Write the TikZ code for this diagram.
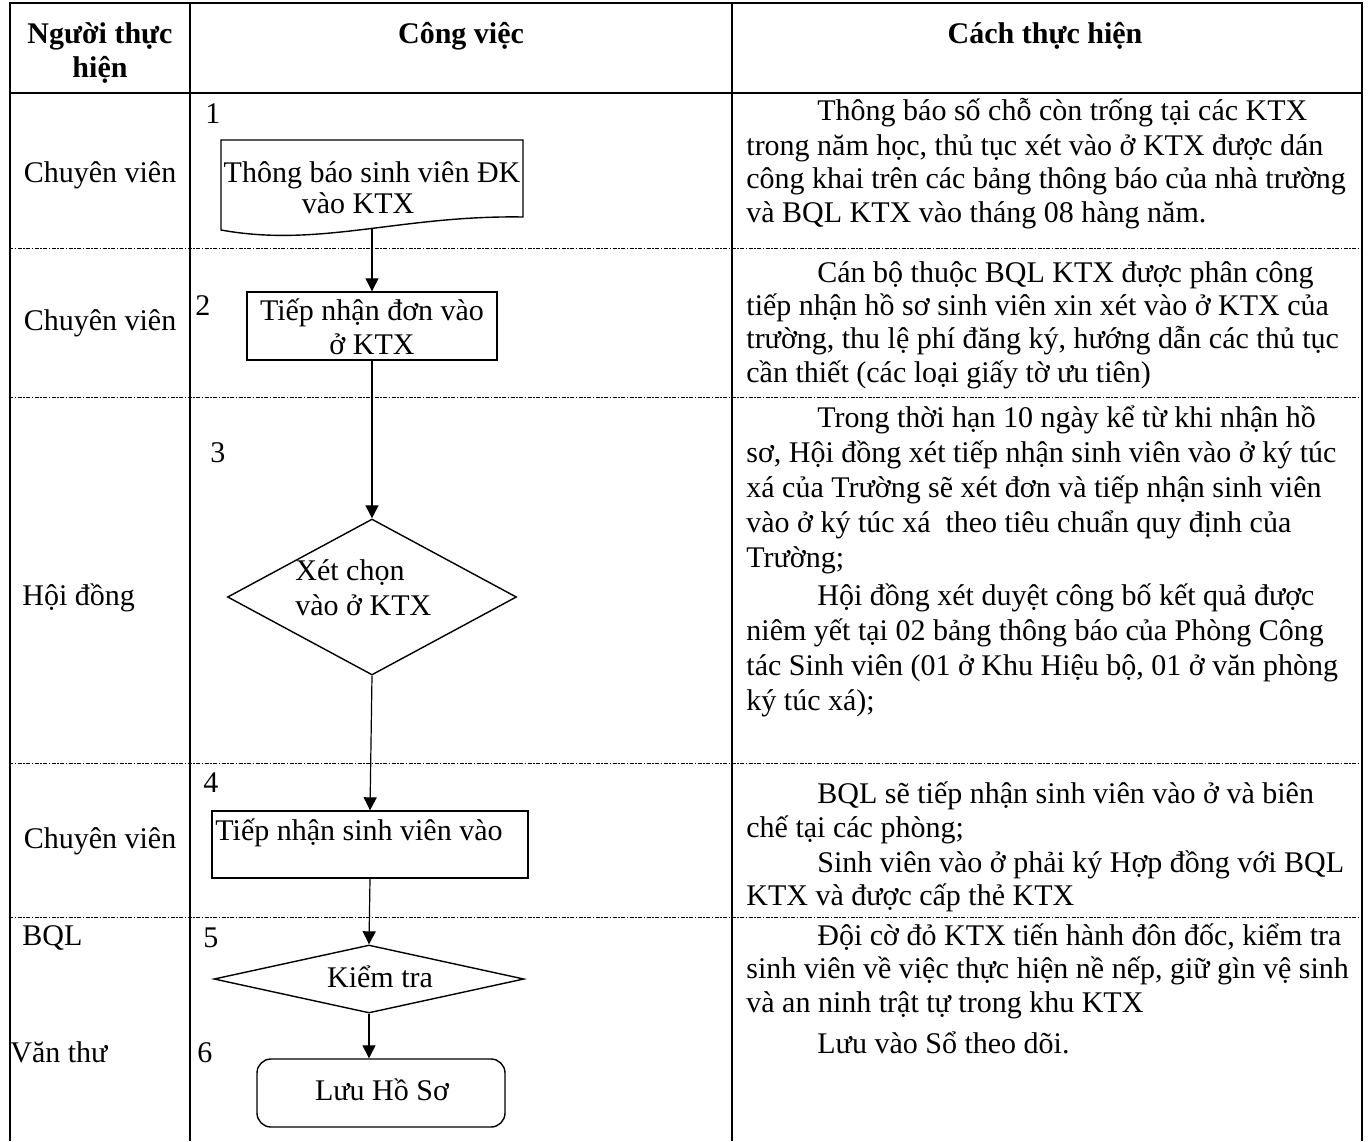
\documentclass[tikz,border=0pt]{standalone}
\usepackage{fontspec}
\setmainfont{Liberation Serif}
\usetikzlibrary{arrows.meta,shapes.geometric}
\newcommand\txtline[4]{\node[txt, anchor=base west] (#1) at (#2,#3) {#4};}
\begin{document}
\begin{tikzpicture}[x=0.5pt,y=-0.5pt,
  txt/.style={inner sep=0pt, font=\fontsize{15pt}{17pt}\selectfont},
  hdr/.style={inner sep=0pt, font=\fontsize{15pt}{17pt}\selectfont\bfseries},
  rowsep/.style={line width=0.5pt, dash pattern=on 2pt off 0.75pt on 0.75pt off 0.75pt},
  frame/.style={line width=1pt},
  box/.style={draw, line width=0.7pt, inner sep=0pt},
  flow/.style={line width=0.6pt, -{Triangle[length=6.5pt,width=6.5pt]}}
]
\useasboundingbox (0,0) rectangle (1370,1141);

% row separators
\foreach \yy in {248,397,763,917} {\draw[rowsep] (9,\yy) -- (1362,\yy);}
% frame
\draw[frame] (10,1141) -- (10,3) -- (1362,3) -- (1362,1141);
\draw[frame] (190,3) -- (190,1141);
\draw[frame] (732,3) -- (732,1141);
\draw[frame] (10,93) -- (1362,93);

% headers
\node[hdr, anchor=base] (h1a) at (100,43) {Người thực};
\node[hdr, anchor=base] (h1b) at (100,77) {hiện};
\node[hdr, anchor=base] (h2) at (461,43) {Công việc};
\node[hdr, anchor=base] (h3) at (1045,43) {Cách thực hiện};

% column 1
\node[txt, anchor=base] (p1) at (100,182) {Chuyên viên};
\node[txt, anchor=base] (p2) at (100,330) {Chuyên viên};
\node[txt, anchor=base west] (p3) at (22,605) {Hội đồng};
\node[txt, anchor=base] (p4) at (100,848) {Chuyên viên};
\node[txt, anchor=base west] (p5) at (22,945) {BQL};
\node[txt, anchor=base west] (p6) at (10,1062) {Văn thư};

% step numbers
\node[txt, anchor=base west] (n1) at (205,123) {1};
\node[txt, anchor=base west] (n2) at (195,315) {2};
\node[txt, anchor=base west] (n3) at (210,462) {3};
\node[txt, anchor=base west] (n4) at (203,792) {4};
\node[txt, anchor=base west] (n5) at (203,947) {5};
\node[txt, anchor=base west] (n6) at (197,1062) {6};

% flow shapes
\draw[line width=0.7pt] (221,140) -- (523,140) -- (523,217)
  .. controls (400,215) and (320,248) .. (221,230) -- cycle;
\coordinate (d1b) at (372,229);
\node[box, minimum width=125pt, minimum height=34pt] (b2) at (372,326) {};
\node[box, diamond, minimum width=144.5pt, minimum height=78pt] (d3) at (372,597) {};
\node[box, minimum width=158pt, minimum height=33.5pt] (b4) at (370,844.5) {};
\node[box, diamond, minimum width=155pt, minimum height=34pt] (d5) at (369,979) {};
\node[box, rounded corners=7pt, minimum width=124pt, minimum height=34pt] (b6) at (381,1093) {};

% flow texts
\node[txt, anchor=base] (t1a) at (372,182) {Thông báo sinh viên ĐK};
\node[txt, anchor=base] (t1b) at (358,213) {vào KTX};
\node[txt, anchor=base] (t2a) at (372,320) {Tiếp nhận đơn vào};
\node[txt, anchor=base] (t2b) at (372,354) {ở KTX};
\node[txt, anchor=base west] (t3a) at (295,580) {Xét chọn};
\node[txt, anchor=base west] (t3b) at (295,615) {vào ở KTX};
\node[txt, anchor=base west] (t4) at (215,840) {Tiếp nhận sinh viên vào};
\node[txt, anchor=base] (t5) at (380,987) {Kiểm tra};
\node[txt, anchor=base] (t6) at (382,1100) {Lưu Hồ Sơ};

% connectors
\draw[flow] (d1b) -- (b2.north);
\draw[flow] (b2.south) -- (d3.north);
\draw[flow] (d3.south) -- (b4.north);
\draw[flow] (b4.south) -- (d5.north);
\draw[flow] (d5.south) -- (d5.south |- b6.north);

% column 3
\txtline{c01}{817}{120}{Thông báo số chỗ còn trống tại các KTX}
\txtline{c02}{746}{155}{trong năm học, thủ tục xét vào ở KTX được dán}
\txtline{c03}{746}{188}{công khai trên các bảng thông báo của nhà trường}
\txtline{c04}{746}{222}{và BQL KTX vào tháng 08 hàng năm.}
\txtline{c05}{817}{282}{Cán bộ thuộc BQL KTX được phân công}
\txtline{c06}{746}{315}{tiếp nhận hồ sơ sinh viên xin xét vào ở KTX của}
\txtline{c07}{746}{348}{trường, thu lệ phí đăng ký, hướng dẫn các thủ tục}
\txtline{c08}{746}{382}{cần thiết (các loại giấy tờ ưu tiên)}
\txtline{c09}{817}{427}{Trong thời hạn 10 ngày kể từ khi nhận hồ}
\txtline{c10}{746}{462}{sơ, Hội đồng xét tiếp nhận sinh viên vào ở ký túc}
\txtline{c11}{746}{497}{xá của Trường sẽ xét đơn và tiếp nhận sinh viên}
\txtline{c12}{746}{532}{vào ở ký túc xá\ \ theo tiêu chuẩn quy định của}
\txtline{c13}{746}{567}{Trường;}
\txtline{c14}{817}{605}{Hội đồng xét duyệt công bố kết quả được}
\txtline{c15}{746}{640}{niêm yết tại 02 bảng thông báo của Phòng Công}
\txtline{c16}{746}{675}{tác Sinh viên (01 ở Khu Hiệu bộ, 01 ở văn phòng}
\txtline{c17}{746}{710}{ký túc xá);}
\txtline{c18}{817}{803}{BQL sẽ tiếp nhận sinh viên vào ở và biên}
\txtline{c19}{746}{837}{chế tại các phòng;}
\txtline{c20}{817}{872}{Sinh viên vào ở phải ký Hợp đồng với BQL}
\txtline{c21}{746}{905}{KTX và được cấp thẻ KTX}
\txtline{c22}{817}{945}{Đội cờ đỏ KTX tiến hành đôn đốc, kiểm tra}
\txtline{c23}{746}{978}{sinh viên về việc thực hiện nề nếp, giữ gìn vệ sinh}
\txtline{c24}{746}{1012}{và an ninh trật tự trong khu KTX}
\txtline{c25}{817}{1053}{Lưu vào Sổ theo dõi.}
\end{tikzpicture}
\end{document}
